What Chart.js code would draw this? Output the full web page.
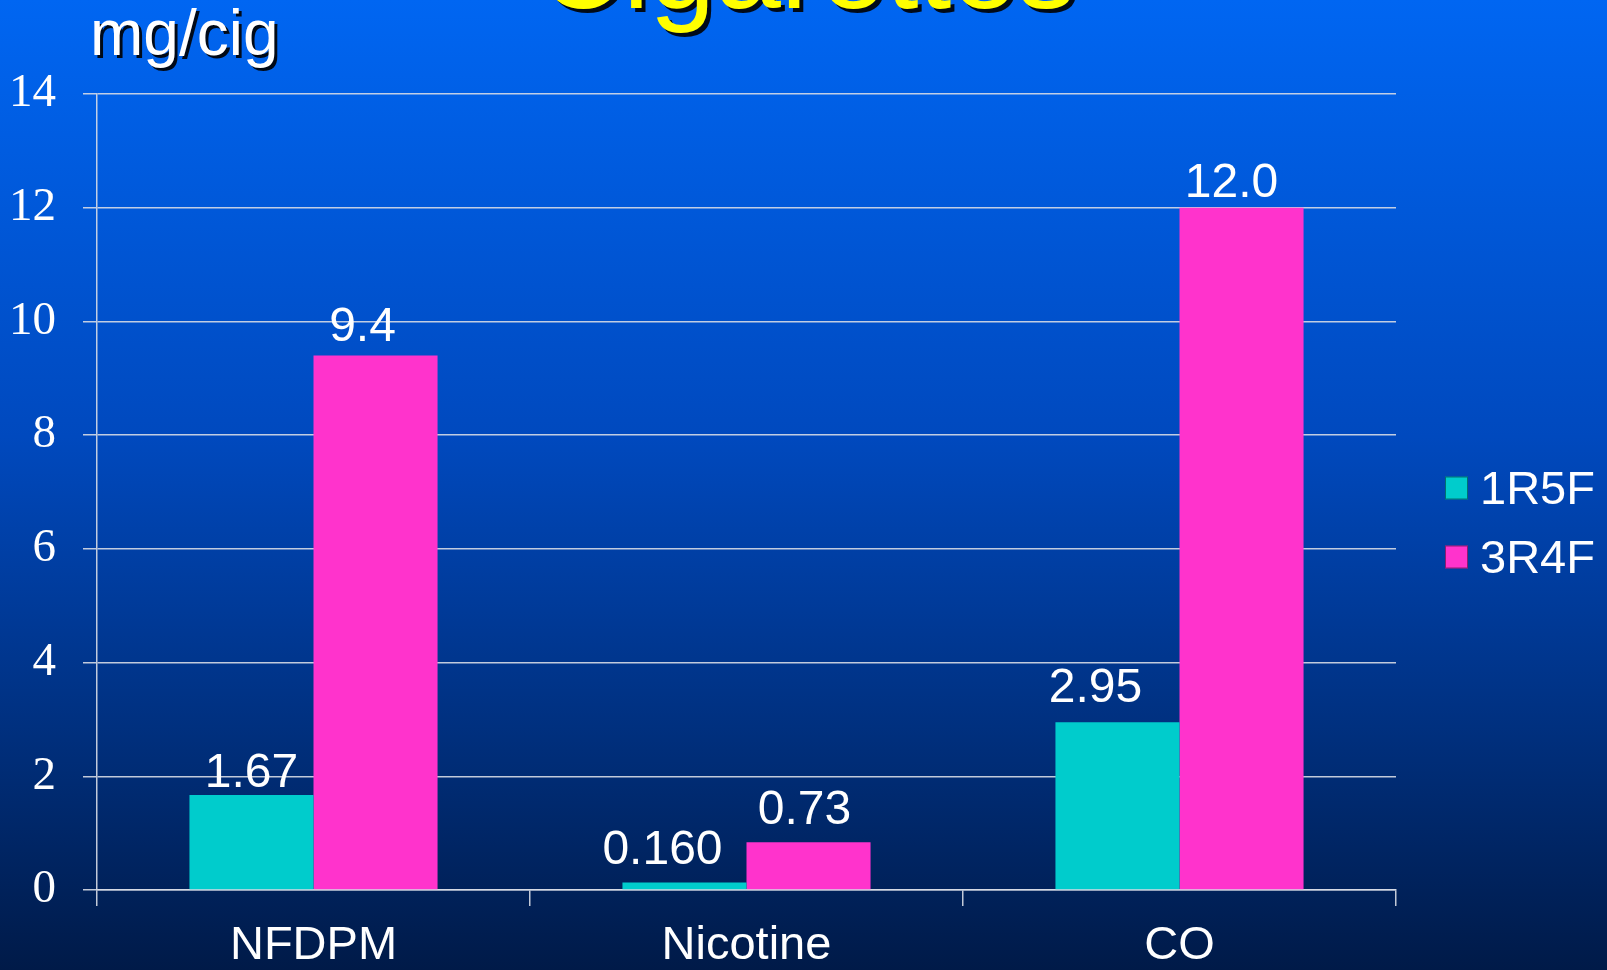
<!DOCTYPE html>
<html>
<head>
<meta charset="utf-8">
<title>mg/cig</title>
<script src="https://cdn.jsdelivr.net/npm/chart.js@4.4.1/dist/chart.umd.min.js"></script>
<style>
    html, body { margin: 0; padding: 0; width: 1607px; height: 970px; overflow: hidden; }
    body { background: linear-gradient(to bottom, #0066F2 0%, #0049BE 45%, #00307F 75%, #001A48 100%); }
    canvas { display: block; }
</style>
</head>
<body>
<canvas id="cigChart" width="1607" height="970"></canvas>
<script>
// --- Chart data ---
const categories = ['NFDPM', 'Nicotine', 'CO'];
const seriesNames = ['1R5F', '3R4F'];
const values1R5F = [1.67, 0.13, 2.95];
const values3R4F = [9.4, 0.84, 12.0];
const labels1R5F = ['1.67', '0.160', '2.95'];
const labels3R4F = ['9.4', '0.73', '12.0'];
const yTicks = [0, 2, 4, 6, 8, 10, 12, 14];
const unitLabel = 'mg/cig';
const slideTitle = 'Cigarettes';

const SANS = "'Liberation Sans', Arial, sans-serif";
const SERIF = "'Liberation Serif', 'Times New Roman', serif";
const GRID = 'rgba(215, 220, 230, 0.9)';

// Value labels above the bars (small nudges copy the slide's hand placement)
const valueLabels = {
    id: 'valueLabels',
    afterDatasetsDraw(chart, args, opts) {
        const ctx = chart.ctx;
        ctx.save();
        ctx.font = `48px ${SANS}`;
        ctx.fillStyle = '#ffffff';
        ctx.textAlign = 'center';
        ctx.textBaseline = 'alphabetic';
        chart.data.datasets.forEach((ds, i) => {
            const meta = chart.getDatasetMeta(i);
            meta.data.forEach((bar, j) => {
                const n = opts.nudge[i][j];
                ctx.fillText(ds.valueText[j], bar.x + n[0], bar.y - n[1]);
            });
        });
        ctx.restore();
    }
};

// Slide heading, unit label and legend
const slideText = {
    id: 'slideText',
    afterDraw(chart) {
        const ctx = chart.ctx;
        ctx.save();
        ctx.shadowColor = 'rgba(0, 0, 0, 0.9)';
        ctx.shadowOffsetX = 4;
        ctx.shadowOffsetY = 4;
        ctx.textBaseline = 'alphabetic';

        ctx.font = `118px ${SANS}`;
        ctx.fillStyle = '#ffff00';
        ctx.textAlign = 'center';
        ctx.fillText(slideTitle, 807, 8);

        ctx.shadowOffsetX = 3;
        ctx.shadowOffsetY = 3;
        ctx.font = `64px ${SANS}`;
        ctx.fillStyle = '#ffffff';
        ctx.textAlign = 'left';
        ctx.fillText(unitLabel, 90, 55);
        ctx.restore();

        // legend
        ctx.save();
        ctx.font = `47px ${SANS}`;
        ctx.textBaseline = 'middle';
        ctx.textAlign = 'left';
        chart.data.datasets.forEach((ds, i) => {
            const cy = 488 + i * 69;
            ctx.fillStyle = ds.backgroundColor;
            ctx.fillRect(1445, cy - 11.5, 23, 23);
            ctx.strokeStyle = 'rgba(0, 0, 0, 0.45)';
            ctx.lineWidth = 1;
            ctx.strokeRect(1445.5, cy - 11, 22, 22);
            ctx.fillStyle = '#ffffff';
            ctx.fillText(ds.label, 1480, cy + 3);
        });
        ctx.restore();
    }
};

const chart = new Chart(document.getElementById('cigChart').getContext('2d'), {
    type: 'bar',
    data: {
        labels: categories,
        datasets: [
            { label: seriesNames[0], data: values1R5F, valueText: labels1R5F, backgroundColor: '#00CCCC' },
            { label: seriesNames[1], data: values3R4F, valueText: labels3R4F, backgroundColor: '#FF33CC' }
        ]
    },
    options: {
        responsive: false,
        animation: false,
        devicePixelRatio: 1,
        categoryPercentage: 0.573,
        barPercentage: 1.0,
        layout: { padding: { top: 94, right: 211, bottom: 0, left: 0 } },
        plugins: {
            legend: { display: false },
            tooltip: { enabled: false },
            valueLabels: {
                nudge: [
                    [[0, 8], [-22, 19], [-22, 20]],
                    [[-13, 15], [-4, 18], [-10, 11]]
                ]
            }
        },
        scales: {
            x: {
                grid: { offset: true, drawOnChartArea: false, drawTicks: true, tickLength: 16, color: GRID, lineWidth: 1.5 },
                border: { display: true, color: GRID, width: 1.5 },
                ticks: { color: '#ffffff', font: { family: SANS, size: 47 }, padding: 12 },
                afterFit: (s) => { s.height = 80; }
            },
            y: {
                min: 0,
                max: 14,
                afterBuildTicks: (s) => { s.ticks = yTicks.map(v => ({ value: v })); },
                grid: { color: GRID, lineWidth: 1.5, drawTicks: true, tickLength: 14 },
                border: { display: true, color: GRID, width: 1.5 },
                ticks: { color: '#ffffff', font: { family: SERIF, size: 47 }, padding: 27 },
                afterFit: (s) => { s.width = 97; }
            }
        }
    },
    plugins: [valueLabels, slideText]
});
</script>
</body>
</html>
